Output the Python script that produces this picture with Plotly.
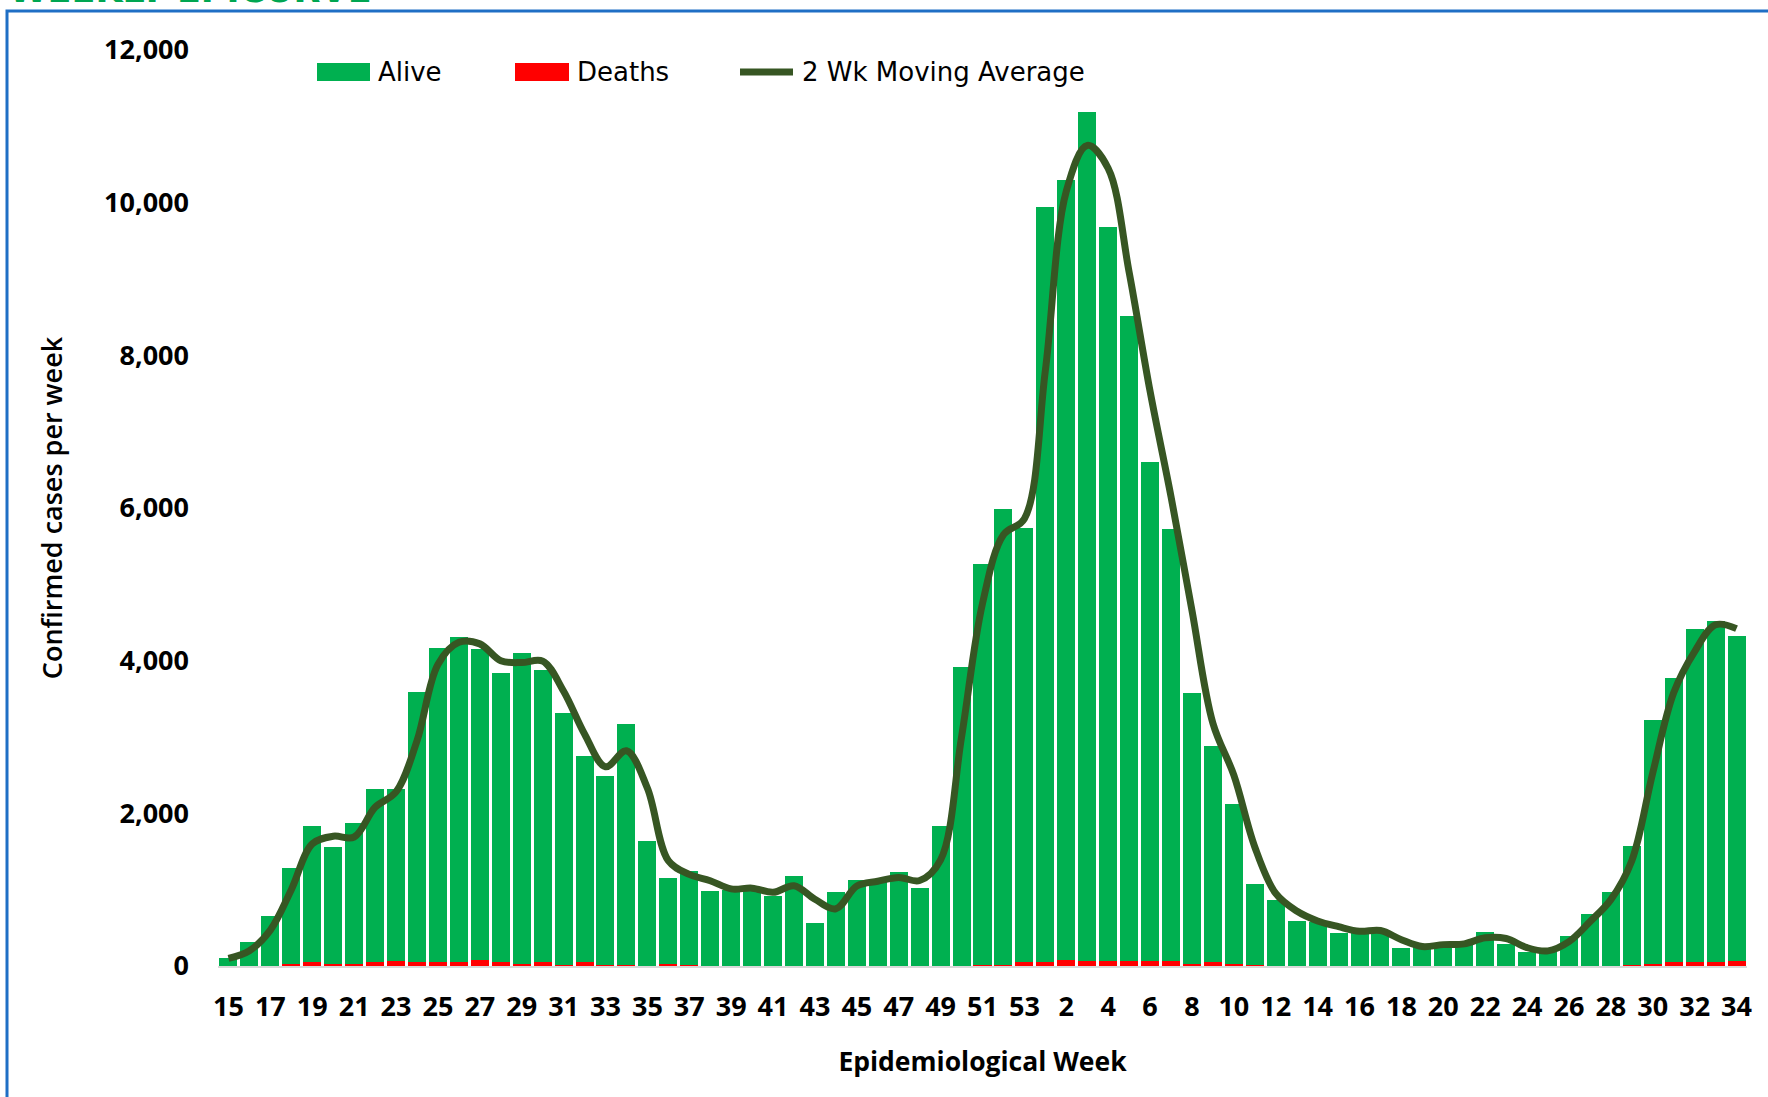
import plotly.graph_objects as go

# ---------------- data ----------------
weeks_2020 = list(range(15, 54))
weeks_2021 = list(range(1, 35))

alive_2020 = [100, 310, 650, 1257, 1789, 1528, 1842, 2269, 2247, 3548,
              4115, 4268, 4067, 3796, 4080, 3831, 3299, 2697, 2478, 3155,
              1635, 1122, 1235, 981, 995, 1005, 916, 1177, 554, 960,
              1121, 1121, 1230, 1016, 1832, 3913, 5249, 5969, 5694]
alive_2021 = [9897, 10219, 11123, 9613, 8448, 6541, 5655, 3548, 2836, 2095,
              1060, 859, 590, 569, 429, 446, 437, 237, 257, 267,
              277, 447, 287, 177, 207, 392, 677, 962, 1554, 3194,
              3722, 4363, 4472, 4250]

deaths_2020 = [0, 0, 0, 26, 48, 26, 26, 48, 70, 48,
               48, 48, 83, 48, 26, 48, 13, 48, 13, 13,
               5, 26, 13, 5, 5, 5, 5, 5, 5, 5,
               5, 5, 5, 5, 5, 5, 13, 13, 48]
deaths_2021 = [48, 83, 65, 65, 65, 65, 65, 26, 48, 26,
               13, 5, 3, 3, 3, 3, 3, 3, 3, 3,
               3, 3, 3, 3, 3, 3, 3, 3, 13, 26,
               48, 48, 48, 70]

moving_avg_2020 = [100, 200, 470, 1000, 1600, 1700, 1690, 2080, 2280, 2950,
                   3950, 4240, 4220, 4000, 3975, 3995, 3600, 3040, 2610, 2820,
                   2330, 1380, 1200, 1117, 1010, 1020, 965, 1051, 875, 750,
                   1048, 1110, 1160, 1120, 1390, 3000, 4750, 5650, 5860]
moving_avg_2021 = [7800, 10150, 10750, 10450, 9090, 7530, 6150, 4660, 3180, 2500,
                   1560, 950, 720, 590, 515, 455, 465, 345, 255, 280,
                   290, 370, 360, 240, 198, 320, 580, 870, 1380, 2530,
                   3580, 4120, 4470, 4420]

categories = [f"2020-W{w:02d}" for w in weeks_2020] + [f"2021-W{w:02d}" for w in weeks_2021]
week_labels = [str(w) for w in weeks_2020 + weeks_2021]
alive = alive_2020 + alive_2021
deaths = deaths_2020 + deaths_2021
moving_avg = moving_avg_2020 + moving_avg_2021

y_ticks = [0, 2000, 4000, 6000, 8000, 10000, 12000]

# ---------------- layout geometry ----------------
W, H = 1768, 1097
ML, MR, MT, MB = 218, 21, 50, 131
PW, PH = W - ML - MR, H - MT - MB


def px(x):
    return (x - ML) / PW


def py(y):
    return (H - MB - y) / PH


GREEN = "#00B050"
RED = "#FF0000"
LINE = "#375623"

fig = go.Figure()
fig.add_trace(go.Bar(x=categories, y=deaths, name="Deaths", marker=dict(color=RED, line=dict(width=0)),
                     showlegend=False))
fig.add_trace(go.Bar(x=categories, y=alive, name="Alive", marker=dict(color=GREEN, line=dict(width=0)),
                     showlegend=False))
fig.add_trace(go.Scatter(x=categories, y=moving_avg, name="2 Wk Moving Average", mode="lines",
                         line=dict(color=LINE, width=7, shape="spline", smoothing=1.0),
                         showlegend=False))

tick_idx = list(range(0, len(categories), 2))

fig.update_layout(
    width=W, height=H,
    margin=dict(l=ML, r=MR, t=MT, b=MB, autoexpand=False),
    paper_bgcolor="white", plot_bgcolor="white",
    barmode="stack", bargap=0.14,
    font=dict(family="Open Sans", color="black"),
    xaxis=dict(
        type="category",
        tickmode="array",
        tickvals=[categories[i] for i in tick_idx],
        ticktext=[week_labels[i] for i in tick_idx],
        tickangle=0,
        tickfont=dict(family="Open Sans", size=27, weight="bold", color="black"),
        ticks="", ticklabelstandoff=16,
        showgrid=False, zeroline=False,
        showline=True, linecolor="#D9D9D9", linewidth=2,
        range=[-0.5, len(categories) - 0.5],
        title=dict(text="Epidemiological Week",
                   font=dict(family="Open Sans", size=26.5, weight="bold", color="black"),
                   standoff=29),
    ),
    yaxis=dict(
        range=[0, 12000],
        tickmode="array", tickvals=y_ticks, tickformat=",",
        tickfont=dict(family="Open Sans", size=27, weight="bold", color="black"),
        ticks="", ticklabelstandoff=28,
        showgrid=False, zeroline=False, showline=False,
        title=dict(text="Confirmed cases per week",
                   font=dict(family="Open Sans", size=27, weight=600, color="black"),
                   standoff=33),
    ),
)

shapes = [
    # outer blue frame (extends beyond the visible page on right/bottom)
    dict(type="rect", xref="paper", yref="paper",
         x0=px(7), x1=px(1800), y0=py(11), y1=py(1200),
         line=dict(color="#1F6FC5", width=3), fillcolor="rgba(0,0,0,0)", layer="above"),
    # legend swatches
    dict(type="rect", xref="paper", yref="paper", x0=px(317), x1=px(370), y0=py(81), y1=py(63),
         fillcolor=GREEN, line=dict(width=0)),
    dict(type="rect", xref="paper", yref="paper", x0=px(515), x1=px(569), y0=py(81), y1=py(63),
         fillcolor=RED, line=dict(width=0)),
    dict(type="line", xref="paper", yref="paper", x0=px(740), x1=px(793), y0=py(72), y1=py(72),
         line=dict(color=LINE, width=7)),
]
fig.update_layout(shapes=shapes)

legend_font = dict(family="DejaVu Sans", size=26, color="black")
annotations = [
    dict(text="Alive", x=px(376), y=py(72), xref="paper", yref="paper",
         xanchor="left", yanchor="middle", showarrow=False, font=legend_font),
    dict(text="Deaths", x=px(575), y=py(72), xref="paper", yref="paper",
         xanchor="left", yanchor="middle", showarrow=False, font=legend_font),
    dict(text="2 Wk Moving Average", x=px(800), y=py(72), xref="paper", yref="paper",
         xanchor="left", yanchor="middle", showarrow=False, font=legend_font),
    # page heading, cut off by the top edge of the picture (as in the original)
    dict(text="WEEKLY EPICURVE", x=px(7), y=py(12), xref="paper", yref="paper",
         xanchor="left", yanchor="bottom", showarrow=False,
         font=dict(family="DejaVu Sans", size=35, weight="bold", color="#00A651")),
]
fig.update_layout(annotations=annotations)

fig.write_html("out.html", config={"displayModeBar": False},
               post_script="document.body.style.margin='0px';")
